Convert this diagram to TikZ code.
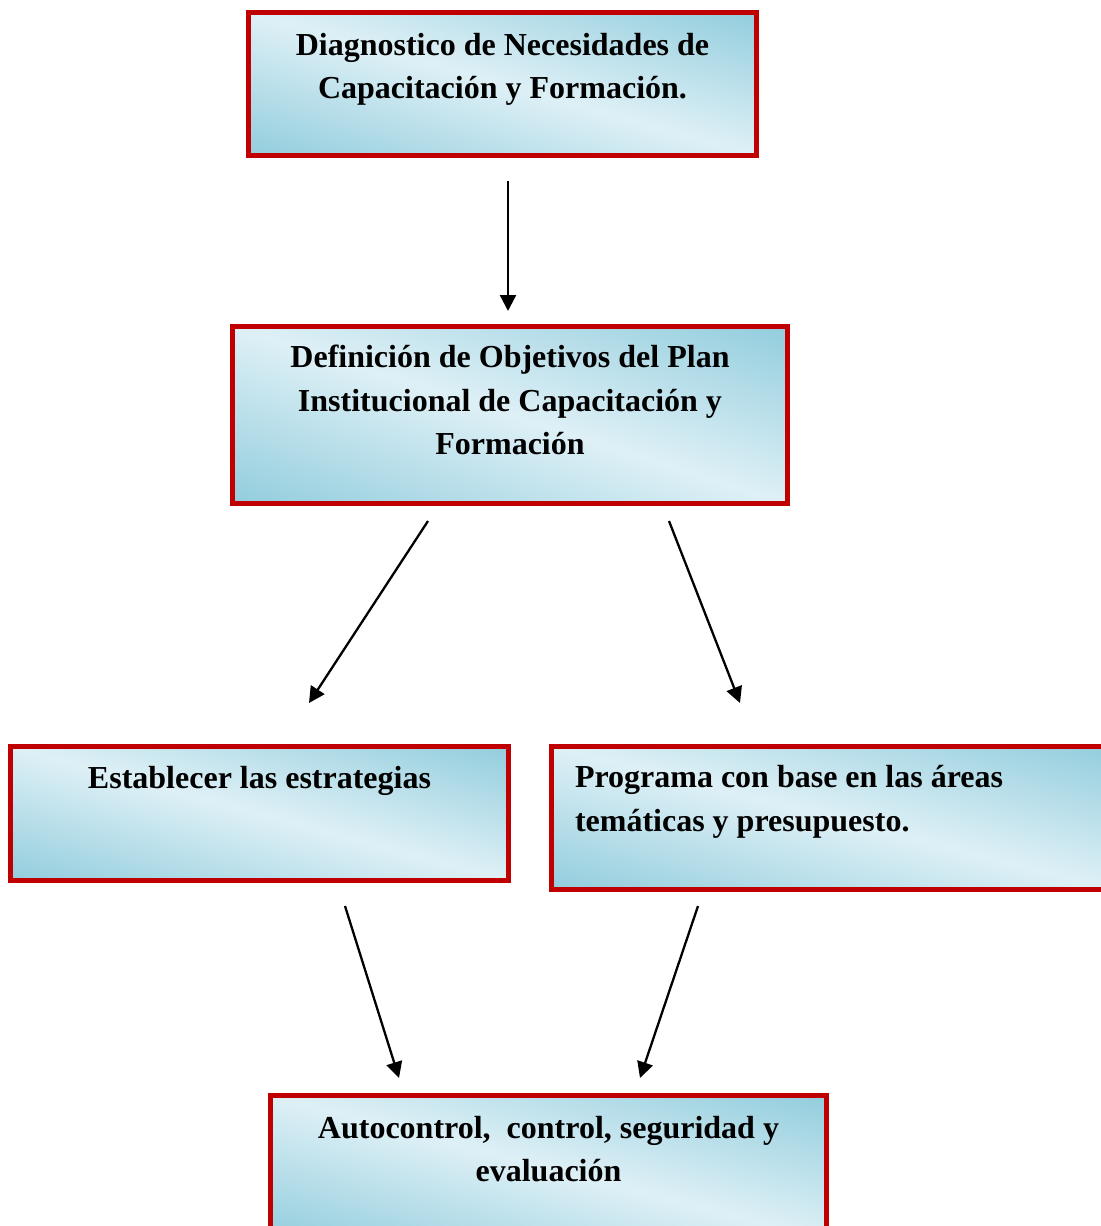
\documentclass[tikz,border=0pt]{standalone}
\usepackage{fontspec}
\setmainfont{Liberation Serif}
\usetikzlibrary{arrows.meta, calc}
\definecolor{boxred}{RGB}{192,0,0}
\pgfdeclarefunctionalshading{boxshade}{\pgfpointorigin}{\pgfpoint{100bp}{100bp}}{}{
  add 50 sub 100 div 0.5 sub abs 2 mul
  dup 1 gt {pop 1} if
  dup -0.298 mul 0.871 add exch
  dup -0.137 mul 0.941 add exch
  -0.098 mul 0.965 add
}

\begin{document}
\begin{tikzpicture}[
    x=0.5pt, y=-0.5pt,
    planbox/.style={draw=boxred, line width=2.5pt, shade, shading=boxshade, inner sep=0pt, outer sep=0pt, anchor=north west, align=flush center, font=\fontsize{16}{21.75}\selectfont\bfseries},
    arr/.style={-{Triangle[length=8pt, width=8pt]}, line width=1.15pt}
]
\useasboundingbox (0,0) rectangle (1101,1226);
\clip (0,0) rectangle (1101,1226);

\node[planbox, text width=254pt, text height=21.25pt, text depth=50.25pt] (diag) at (248.5,12.5) {Diagnostico de Necesidades de\\Capacitación y Formación.};
\node[planbox, text width=277.5pt, text height=20.5pt, text depth=68pt] (objet) at (232.5,326.5) {Definición de Objetivos del Plan\\Institucional de Capacitación y\\Formación};
\node[planbox, text width=249pt, text height=20.75pt, text depth=46.25pt] (estrat) at (10.5,746.5) {Establecer las estrategias};
\node[planbox, align=flush left, inner xsep=11.75pt, text width=258.25pt, text height=20.5pt, text depth=51pt] (progr) at (551.5,746.5) {Programa con base en las áreas\\temáticas y presupuesto.};
\node[planbox, text width=278pt, text height=21.25pt, text depth=51pt] (autoc) at (270.5,1095.5) {Autocontrol, \ control, seguridad y\\evaluación};

\draw[arr] ($(diag.south)+(5.5,25.5)$) -- ($(objet.north)+(-2,-15.5)$);
\draw[arr] ($(objet.south)+(-82,17.5)$) -- ($(estrat.north)+(49.5,-43.5)$);
\draw[arr] ($(objet.south)+(159,17.5)$) -- ($(progr.north west)+(188.5,-43.5)$);
\draw[arr] ($(estrat.south)+(85.5,25.5)$) -- ($(autoc.north)+(-149.5,-17.5)$);
\draw[arr] ($(progr.south west)+(146.5,16.5)$) -- ($(autoc.north)+(91.5,-17.5)$);
\end{tikzpicture}
\end{document}
